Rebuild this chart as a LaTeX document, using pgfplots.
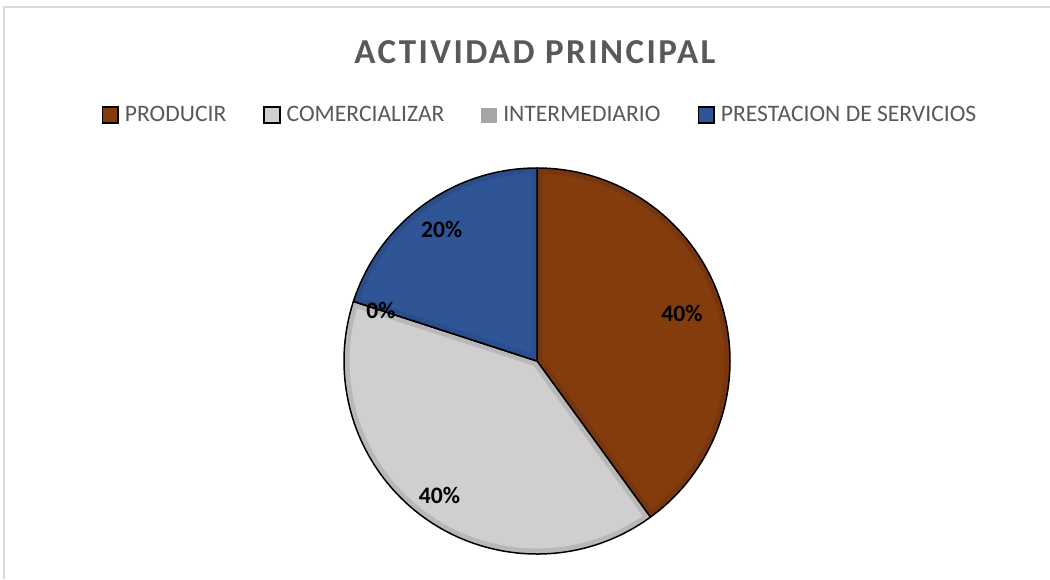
\documentclass[border=0pt]{standalone}
\usepackage{pgfplots}
\pgfplotsset{compat=1.18}
\usepackage{pgfplotstable}
\usepackage{fontspec}
\setmainfont{Carlito}
\newfontfamily\titlefont[LetterSpace=7]{Carlito}
\definecolor{cProd}{HTML}{843C0C}
\definecolor{bProd}{HTML}{773610}
\definecolor{cCom}{HTML}{D0CECE}
\definecolor{bCom}{HTML}{B9B7B7}
\definecolor{cInt}{HTML}{A5A5A5}
\definecolor{bInt}{HTML}{959595}
\definecolor{cSer}{HTML}{2F5597}
\definecolor{bSer}{HTML}{2A4E8B}
\definecolor{txtgray}{HTML}{595959}
\definecolor{framegray}{HTML}{D9D9D9}

\pgfplotstableread[col sep=comma]{
label,value,lr,fillc,bevc
PRODUCIR,40,0.79,cProd,bProd
COMERCIALIZAR,40,0.86,cCom,bCom
INTERMEDIARIO,0,0.85,cInt,bInt
PRESTACION DE SERVICIOS,20,0.84,cSer,bSer
}\piedata

\begin{document}
\begin{tikzpicture}
\fill[white] (0pt,0pt) rectangle (525pt,289.5pt);
\useasboundingbox (0pt,0pt) rectangle (525pt,289.5pt);
\draw[framegray, line width=0.8pt] (2pt,0pt) -- (2pt,286pt) -- (525pt,286pt);
\node[text=txtgray, font=\titlefont\bfseries\fontsize{17.5}{20}\selectfont] at (267.5pt,263.5pt) {ACTIVIDAD PRINCIPAL};
\begin{axis}[
  at={(268.5pt,109pt)}, anchor=center,
  width=193pt, height=193pt, scale only axis,
  xmin=-1, xmax=1, ymin=-1, ymax=1,
  hide axis, clip=false,
  legend columns=4,
  legend style={at={(0.505,1.137)}, anchor=center, draw=none, fill=none,
    font=\fontsize{11.8}{14}\selectfont, text=txtgray,
    nodes={inner sep=0pt},
    /tikz/every odd column/.append style={column sep=3pt},
    /tikz/every even column/.append style={column sep=18.5pt}},
]
\addlegendimage{legend image code/.code={\draw[fill=cProd,draw=black,line width=0.9pt] (0pt,-3.9pt) rectangle (7.8pt,3.9pt);}}
\addlegendentry{PRODUCIR}
\addlegendimage{legend image code/.code={\draw[fill=cCom,draw=black,line width=0.9pt] (0pt,-3.9pt) rectangle (7.8pt,3.9pt);}}
\addlegendentry{COMERCIALIZAR}
\addlegendimage{legend image code/.code={\fill[cInt] (0pt,-3.6pt) rectangle (7.5pt,3.6pt);}}
\addlegendentry{INTERMEDIARIO}
\addlegendimage{legend image code/.code={\draw[fill=cSer,draw=black,line width=0.9pt] (0pt,-3.9pt) rectangle (7.8pt,3.9pt);}}
\addlegendentry{PRESTACION DE SERVICIOS}
\pgfplotsextra{%
  \xdef\cumangle{90}%
  \pgfplotstablegetrowsof{\piedata}%
  \pgfmathtruncatemacro\nrows{\pgfplotsretval-1}%
  \foreach \i in {0,...,\nrows}{%
    \pgfplotstablegetelem{\i}{value}\of\piedata
    \pgfmathsetmacro\val{\pgfplotsretval}%
    \pgfplotstablegetelem{\i}{fillc}\of\piedata
    \edef\fc{\pgfplotsretval}%
    \pgfplotstablegetelem{\i}{bevc}\of\piedata
    \edef\bc{\pgfplotsretval}%
    \pgfmathsetmacro\sa{\cumangle}%
    \pgfmathsetmacro\ea{\cumangle-3.6*\val}%
    \fill[\fc] (axis cs:0,0) -- (axis cs:{cos(\sa)},{sin(\sa)}) arc[start angle=\sa, end angle=\ea, radius=96.5pt] -- cycle;
    \begin{scope}
      \clip (axis cs:0,0) -- (axis cs:{cos(\sa)},{sin(\sa)}) arc[start angle=\sa, end angle=\ea, radius=96.5pt] -- cycle;
      \draw[\bc, line width=5.5pt, line join=round] (axis cs:0,0) -- (axis cs:{cos(\sa)},{sin(\sa)}) arc[start angle=\sa, end angle=\ea, radius=96.5pt] -- cycle;
    \end{scope}
    \draw[black, line width=0.75pt, line join=round] (axis cs:0,0) -- (axis cs:{cos(\sa)},{sin(\sa)}) arc[start angle=\sa, end angle=\ea, radius=96.5pt] -- cycle;
    \xdef\cumangle{\ea}%
  }%
  \xdef\cumangle{90}%
  \foreach \i in {0,...,\nrows}{%
    \pgfplotstablegetelem{\i}{value}\of\piedata
    \pgfmathsetmacro\val{\pgfplotsretval}%
    \pgfmathtruncatemacro\ival{\val}%
    \pgfplotstablegetelem{\i}{lr}\of\piedata
    \edef\lr{\pgfplotsretval}%
    \pgfmathsetmacro\sa{\cumangle}%
    \pgfmathsetmacro\ea{\cumangle-3.6*\val}%
    \pgfmathsetmacro\ma{(\sa+\ea)/2}%
    \node[font=\bfseries\fontsize{11.8}{14}\selectfont, text=black] at (axis cs:{\lr*cos(\ma)},{\lr*sin(\ma)}) {\ival\%};
    \xdef\cumangle{\ea}%
  }%
}
\end{axis}
\end{tikzpicture}
\end{document}
